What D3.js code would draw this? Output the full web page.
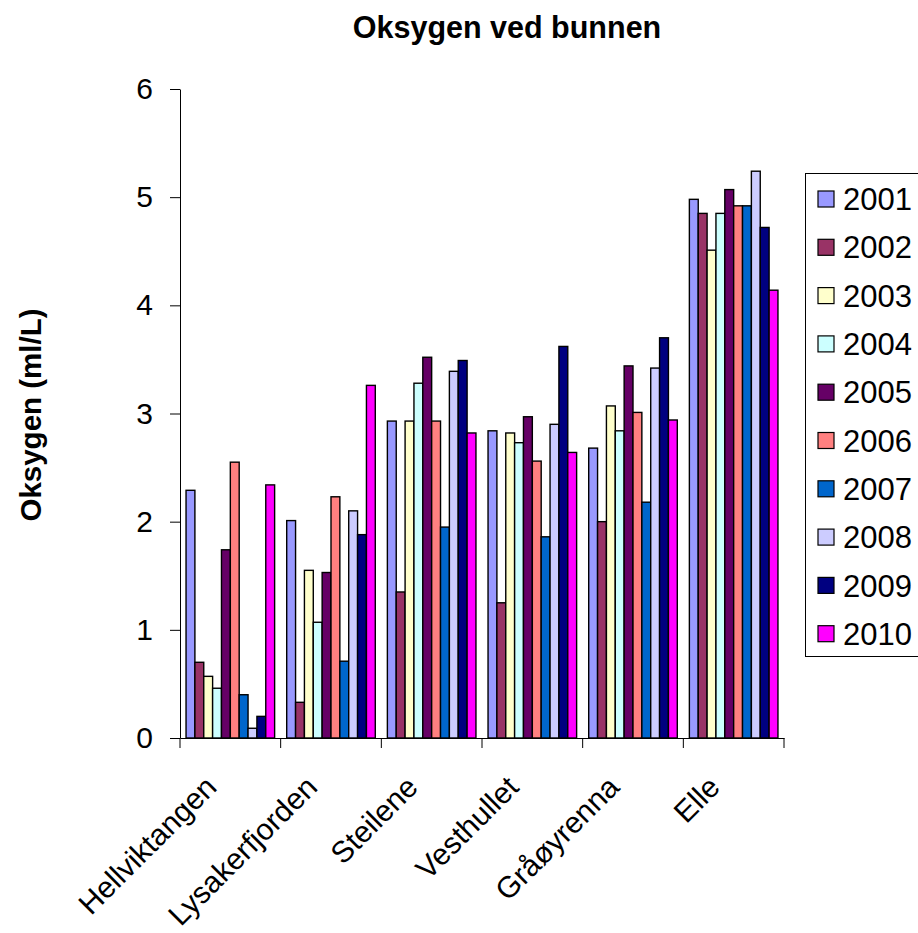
<!DOCTYPE html>
<html>
<head>
<meta charset="utf-8">
<script src="https://cdn.jsdelivr.net/npm/d3@7"></script>
<style>
  html, body { margin: 0; padding: 0; background: #fff; }
  svg { display: block; font-family: "Liberation Sans", Arial, sans-serif; }
</style>
</head>
<body>
<svg id="chart" width="918" height="933"></svg>
<script>
const categories = ["Hellviktangen", "Lysakerfjorden", "Steilene", "Vesthullet", "Gråøyrenna", "Elle"];
const years = ["2001", "2002", "2003", "2004", "2005", "2006", "2007", "2008", "2009", "2010"];
const colors = ["#9999FF", "#993366", "#FFFFCC", "#CCFFFF", "#660066", "#FF8080", "#0066CC", "#CCCCFF", "#000080", "#FF00FF"];
// values per year, in category order
const v2001 = [2.29, 2.01, 2.93, 2.84, 2.68, 4.98];
const v2002 = [0.70, 0.33, 1.35, 1.25, 2.00, 4.85];
const v2003 = [0.57, 1.55, 2.93, 2.82, 3.07, 4.51];
const v2004 = [0.46, 1.07, 3.28, 2.73, 2.84, 4.85];
const v2005 = [1.74, 1.53, 3.52, 2.97, 3.44, 5.07];
const v2006 = [2.55, 2.23, 2.93, 2.56, 3.01, 4.92];
const v2007 = [0.40, 0.71, 1.95, 1.86, 2.18, 4.92];
const v2008 = [0.09, 2.10, 3.39, 2.90, 3.42, 5.24];
const v2009 = [0.20, 1.88, 3.49, 3.62, 3.70, 4.72];
const v2010 = [2.34, 3.26, 2.82, 2.64, 2.94, 4.14];
const yTicks = [0, 1, 2, 3, 4, 5, 6];
const titleText = "Oksygen ved bunnen";
const yLabel = "Oksygen (ml/L)";

const seriesValues = [v2001, v2002, v2003, v2004, v2005, v2006, v2007, v2008, v2009, v2010];

const svg = d3.select("#chart");
const plotL = 180, plotR = 784, plotT = 89, plotB = 738;

const x0 = d3.scaleBand().domain(categories).range([plotL, plotR]).paddingInner(0).paddingOuter(0);
const bw = x0.bandwidth();
const x1 = d3.scaleBand().domain(years).range([bw * 0.06, bw * 0.94]).padding(0);
const y = d3.scaleLinear().domain([0, 6]).range([plotB, plotT]);
const color = d3.scaleOrdinal().domain(years).range(colors);

// Title
svg.append("text")
  .attr("x", 507).attr("y", 38)
  .attr("text-anchor", "middle")
  .attr("font-size", 30.5).attr("font-weight", "bold")
  .text(titleText);

// Y label
svg.append("text")
  .attr("transform", `translate(41, 415) rotate(-90)`)
  .attr("text-anchor", "middle")
  .attr("font-size", 29.5).attr("font-weight", "bold")
  .text(yLabel);

// Bars
const rows = [];
categories.forEach((c, ci) => {
  years.forEach((yr, yi) => rows.push({ cat: c, year: yr, value: seriesValues[yi][ci] }));
});
svg.append("g").selectAll("rect").data(rows).join("rect")
  .attr("x", d => x0(d.cat) + x1(d.year))
  .attr("y", d => y(d.value))
  .attr("width", x1.bandwidth())
  .attr("height", d => y(0) - y(d.value))
  .attr("fill", d => color(d.year))
  .attr("stroke", "#000")
  .attr("stroke-width", 1.4);

// Y axis
const yAxis = svg.append("g")
  .attr("transform", `translate(${plotL},0)`)
  .call(d3.axisLeft(y).tickValues(yTicks).tickFormat(d3.format("d")).tickSize(10).tickSizeOuter(0).tickPadding(17));
yAxis.select(".domain").attr("stroke", "#000");
yAxis.selectAll(".tick line").attr("stroke", "#000");
yAxis.selectAll(".tick text").attr("font-size", 30).attr("fill", "#000")
  .attr("font-family", "Liberation Sans, Arial, sans-serif");

// X axis: line + boundary ticks
const xAxis = svg.append("g").attr("transform", `translate(0,${plotB})`)
  .call(d3.axisBottom(x0).tickSize(0).tickSizeOuter(0).tickFormat(""));
xAxis.select(".domain").attr("stroke", "#000");
const bounds = categories.map(c => x0(c)).concat([plotR]);
xAxis.selectAll(".bound").data(bounds).join("line")
  .attr("class", "bound")
  .attr("x1", d => d).attr("x2", d => d)
  .attr("y1", 0).attr("y2", 10)
  .attr("stroke", "#000");

// Category labels
svg.append("g").selectAll("text").data(categories).join("text")
  .attr("transform", d => `translate(${x0(d) + bw / 2 - 12}, 789) rotate(-45)`)
  .attr("text-anchor", "end")
  .attr("font-size", 30)
  .text(d => d);

// Legend
const lg = svg.append("g");
lg.append("rect")
  .attr("x", 805.5).attr("y", 173.5)
  .attr("width", 140).attr("height", 483)
  .attr("fill", "#fff").attr("stroke", "#000").attr("stroke-width", 1);
const item = lg.selectAll("g.item").data(years).join("g")
  .attr("class", "item")
  .attr("transform", (d, i) => `translate(0, ${199 + i * 48.3})`);
item.append("rect")
  .attr("x", 818).attr("y", -8)
  .attr("width", 16).attr("height", 16)
  .attr("fill", d => color(d))
  .attr("stroke", "#000").attr("stroke-width", 1.2);
item.append("text")
  .attr("x", 843).attr("y", 0).attr("dy", "0.36em")
  .attr("font-size", 31)
  .text(d => d);
</script>
</body>
</html>
